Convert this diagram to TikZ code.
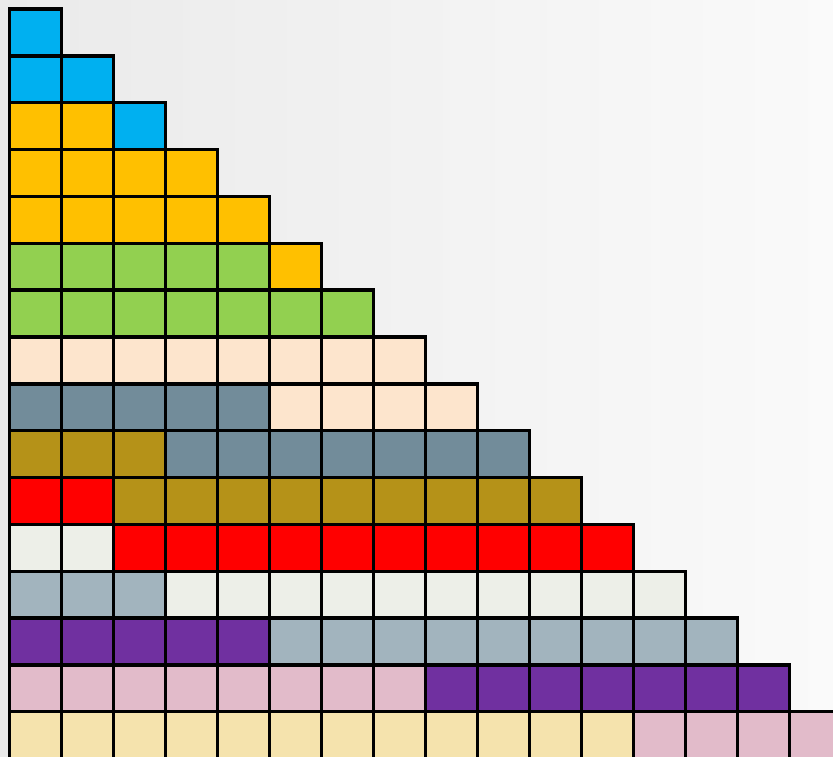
\documentclass[tikz,border=0pt]{standalone}
\definecolor{cblue}{HTML}{00B0F0}
\definecolor{cyellow}{HTML}{FFC000}
\definecolor{cgreen}{HTML}{92D050}
\definecolor{cpeach}{HTML}{FDE5CD}
\definecolor{cslate}{HTML}{728C9A}
\definecolor{colive}{HTML}{B59218}
\definecolor{cred}{HTML}{FF0000}
\definecolor{coffw}{HTML}{EDEFE8}
\definecolor{cgblue}{HTML}{A2B4BE}
\definecolor{cpurple}{HTML}{7030A0}
\definecolor{cpink}{HTML}{E2BBCA}
\definecolor{cbeige}{HTML}{F5E3AD}
\definecolor{bgl}{HTML}{EAEAEA}
\definecolor{bgr}{HTML}{FAFAFA}
\tikzset{cellbox/.style={draw=black,line width=3.4pt,line join=miter}}
\begin{document}
\begin{tikzpicture}[x=1pt,y=-1pt]
\useasboundingbox (0,0) rectangle (833,757);
\shade[left color=bgl,right color=bgr] (0,0) rectangle (833,757);
\clip (0,0) rectangle (833,757);
\foreach \r/\n/\ca/\cb in {1/1/cblue/cblue,2/2/cblue/cblue,3/2/cyellow/cblue,4/4/cyellow/cyellow,5/5/cyellow/cyellow,6/5/cgreen/cyellow,7/7/cgreen/cgreen,8/8/cpeach/cpeach,9/5/cslate/cpeach,10/3/colive/cslate,11/2/cred/colive,12/2/coffw/cred,13/3/cgblue/coffw,14/5/cpurple/cgblue,15/8/cpink/cpurple,16/12/cbeige/cpink}{
  \foreach \c in {1,...,\r}{
    \ifnum\c>\n\relax\def\col{\cb}\else\def\col{\ca}\fi
    \pgfmathsetmacro{\xa}{9.5+(\c-1)*52}
    \pgfmathsetmacro{\ya}{9+(\r-1)*46.85}
    \filldraw[cellbox,fill=\col] (\xa,\ya) rectangle ++(52,46.85);
  }
}
\end{tikzpicture}
\end{document}
